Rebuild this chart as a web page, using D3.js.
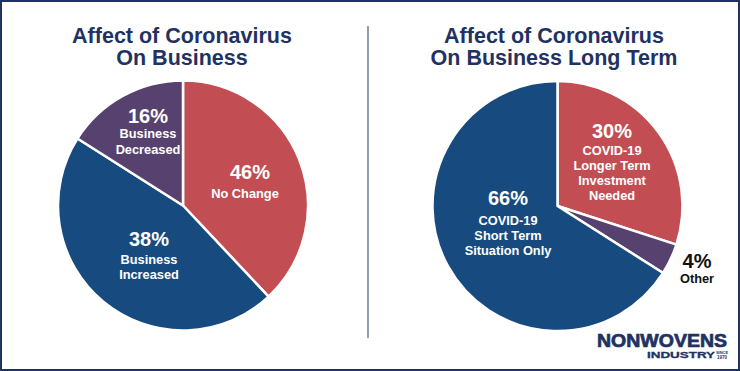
<!DOCTYPE html>
<html>
<head>
<meta charset="utf-8">
<script src="https://cdn.jsdelivr.net/npm/d3@7"></script>
<style>
  html, body { margin: 0; padding: 0; background: #fff; }
  svg { display: block; font-family: "Liberation Sans", Arial, Helvetica, sans-serif; }
</style>
</head>
<body>
<svg id="chart" width="740" height="371"></svg>
<script>
// ---- data ----
const leftTitle = ["Affect of Coronavirus", "On Business"];
const leftCategories = [["No Change"], ["Business", "Increased"], ["Business", "Decreased"]];
const leftPercentLabels = ["46%", "38%", "16%"];
// angular shares of the slices as drawn in the picture (clockwise from 12 o'clock)
const leftShares = [38, 46, 16];

const rightTitle = ["Affect of Coronavirus", "On Business Long Term"];
const rightCategories = [["COVID-19", "Longer Term", "Investment", "Needed"], ["Other"], ["COVID-19", "Short Term", "Situation Only"]];
const rightPercentLabels = ["30%", "4%", "66%"];
const rightShares = [30, 4, 66];

// ---- styles / layout ----
const W = 740, H = 371;
const navy = "#1f3262";
const sliceColors = ["#c24e54", "#174a7e", "#57426f"];
const rightColors = ["#c24e54", "#57426f", "#174a7e"];

const svg = d3.select("#chart");

svg.append("rect").attr("x", 1).attr("y", 1).attr("width", W - 2).attr("height", H - 2)
  .attr("fill", "#fff").attr("stroke", navy).attr("stroke-width", 2);

// divider
svg.append("line").attr("x1", 368).attr("x2", 368).attr("y1", 26).attr("y2", 338)
  .attr("stroke", "#5a6684").attr("stroke-width", 1.3);

function drawPie(cfg) {
  const g = svg.append("g").attr("transform", `translate(${cfg.cx},${cfg.cy})`);
  const pie = d3.pie().sort(null).value(d => d);
  const arc = d3.arc().innerRadius(0).outerRadius(cfg.r);
  const arcs = pie(cfg.values);
  g.selectAll("path").data(arcs).join("path")
    .attr("d", arc)
    .attr("fill", (d, i) => cfg.colors[i])
    .attr("stroke", "#fff").attr("stroke-width", 2.5).attr("stroke-linejoin", "round");

  // title
  const t = svg.append("text").attr("text-anchor", "middle")
    .attr("fill", navy).attr("font-weight", "bold").attr("font-size", 21.5);
  cfg.title.forEach((line, i) => {
    t.append("tspan").attr("x", cfg.titleX).attr("y", 43 + i * 22).text(line);
  });

  // labels
  cfg.percent.forEach((p, i) => {
    const [ox, oy] = cfg.labelOffsets[i];
    const col = cfg.labelColors[i];
    const lg = g.append("g").attr("transform", `translate(${ox},${oy})`);
    lg.append("text").attr("text-anchor", "middle").attr("font-weight", "bold")
      .attr("font-size", 20).attr("fill", col).text(p);
    cfg.cats[i].forEach((line, j) => {
      lg.append("text").attr("text-anchor", "middle").attr("font-weight", "bold")
        .attr("font-size", 12.8).attr("fill", col)
        .attr("x", cfg.catDx[i])
        .attr("y", cfg.firstGap[i] + j * cfg.lineGap[i]).text(line);
    });
  });
}

drawPie({
  cx: 183, cy: 205.5, r: 125, values: leftShares, colors: sliceColors,
  title: leftTitle, titleX: 182, percent: leftPercentLabels, cats: leftCategories,
  labelOffsets: [[67, -26.5], [-34, 40.5], [-35, -82.5]],
  labelColors: ["#fff", "#fff", "#fff"],
  catDx: [-5, 0, 0],
  firstGap: [19, 18, 15], lineGap: [15, 15, 16]
});

drawPie({
  cx: 557.5, cy: 206, r: 125, values: rightShares, colors: rightColors,
  title: rightTitle, titleX: 554, percent: rightPercentLabels, cats: rightCategories,
  labelOffsets: [[54.5, -68], [139.5, 62], [-49.5, -1]],
  labelColors: ["#fff", "#111", "#fff"],
  catDx: [0, 0, 0],
  firstGap: [17, 15, 20], lineGap: [15, 15, 15]
});

// logo
const logo = svg.append("g");
logo.append("text").attr("x", 597).attr("y", 346.5).attr("font-weight", "bold")
  .attr("font-size", 18).attr("fill", navy).attr("stroke", navy).attr("stroke-width", 0.7)
  .attr("textLength", 130)
  .attr("lengthAdjust", "spacingAndGlyphs").text("NONWOVENS");
logo.append("text").attr("x", 647).attr("y", 358).attr("font-weight", "bold")
  .attr("font-size", 9).attr("fill", navy).attr("stroke", navy).attr("stroke-width", 0.3)
  .attr("textLength", 68)
  .attr("lengthAdjust", "spacingAndGlyphs").text("INDUSTRY");
logo.append("text").attr("x", 722).attr("y", 354).attr("text-anchor", "middle").attr("font-weight", "bold")
  .attr("font-size", 4).attr("fill", navy).text("SINCE");
logo.append("text").attr("x", 722).attr("y", 358.5).attr("text-anchor", "middle").attr("font-weight", "bold")
  .attr("font-size", 4.5).attr("fill", navy).text("1970");
</script>
</body>
</html>
